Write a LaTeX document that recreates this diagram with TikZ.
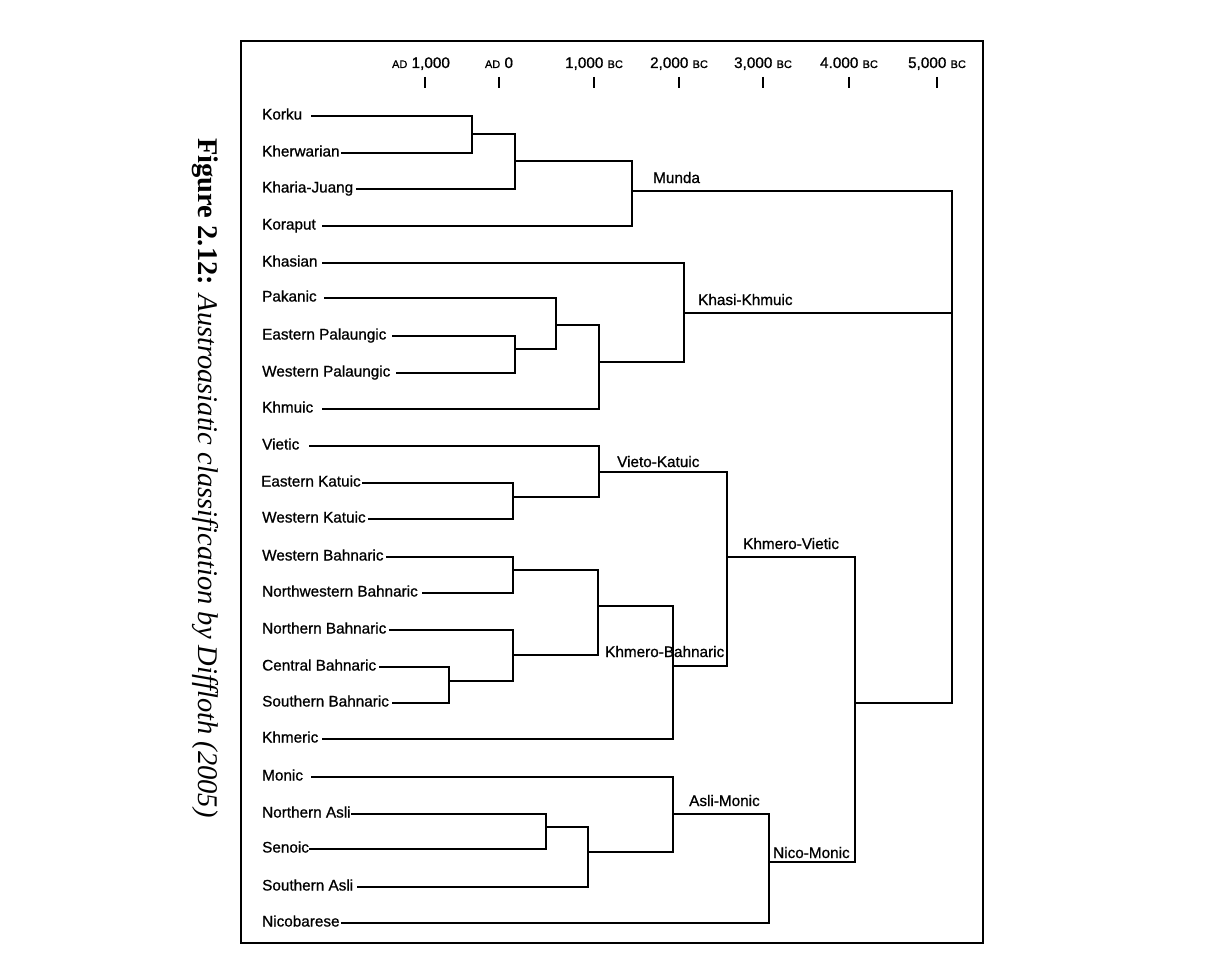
\documentclass[tikz,border=0pt]{standalone}
\usepackage{fontspec}
\setmainfont{Liberation Serif}
\newfontfamily\labfont[FakeBold=0.9]{Liberation Sans}
\begin{document}
\begin{tikzpicture}[x=1pt,y=-1pt,
  leaf/.style={anchor=base west,inner sep=0pt,font=\labfont\fontsize{15.3}{18}\selectfont},
  grp/.style={anchor=base west,inner sep=0pt,font=\labfont\fontsize{15.3}{18}\selectfont},
  axl/.style={anchor=base,inner sep=0pt,font=\labfont\fontsize{15.3}{18}\selectfont},
  br/.style={line width=1.7pt,line cap=rect,line join=miter},
  tickln/.style={line width=1.6pt}]
\useasboundingbox (0,0) rectangle (1227,979);
\draw[line width=1.1pt] (241,41) rectangle (983,943);
% caption
\node[rotate=-90,inner sep=0pt,font=\fontsize{28.5}{32}\selectfont] (cap) at (205,478)
  {\textbf{Figure 2.12:} \textit{Austroasiatic classification by Diffloth (2005)}};
% axis
\newcommand{\smc}[1]{{\fontsize{11}{12}\selectfont #1}}
\node[axl] (a1) at (421,68) {\smc{AD} 1,000};
\node[axl] (a2) at (499,68) {\smc{AD} 0};
\node[axl] (a3) at (594,68) {1,000 \smc{BC}};
\node[axl] (a4) at (679,68) {2,000 \smc{BC}};
\node[axl] (a5) at (763,68) {3,000 \smc{BC}};
\node[axl] (a6) at (849,68) {4.000 \smc{BC}};
\node[axl] (a7) at (937,68) {5,000 \smc{BC}};
\foreach \x in {425,499,594,679,763,849,937} \draw[tickln] (\x,77) -- (\x,88);
% leaves
\node[leaf] (korku) at (262,119.5) {Korku};
\node[leaf] (kherw) at (262,156.5) {Kherwarian};
\node[leaf] (kharia) at (262,192.5) {Kharia-Juang};
\node[leaf] (korap) at (262,229.5) {Koraput};
\node[leaf] (khas) at (262,266.5) {Khasian};
\node[leaf] (pak) at (262,301.5) {Pakanic};
\node[leaf] (epal) at (262,339.5) {Eastern Palaungic};
\node[leaf] (wpal) at (262,376.5) {Western Palaungic};
\node[leaf] (khmu) at (262,412.5) {Khmuic};
\node[leaf] (viet) at (262,449.5) {Vietic};
\node[leaf] (ekat) at (261,486.5) {Eastern Katuic};
\node[leaf] (wkat) at (262,522.5) {Western Katuic};
\node[leaf] (wbah) at (262,560.5) {Western Bahnaric};
\node[leaf] (nwbah) at (262,596.5) {Northwestern Bahnaric};
\node[leaf] (nbah) at (262,633.5) {Northern Bahnaric};
\node[leaf] (cbah) at (262,670.5) {Central Bahnaric};
\node[leaf] (sbah) at (262,706.5) {Southern Bahnaric};
\node[leaf] (khme) at (262,742.5) {Khmeric};
\node[leaf] (moni) at (262,780.5) {Monic};
\node[leaf] (nasl) at (262,817.5) {Northern Asli};
\node[leaf] (seno) at (262,852.5) {Senoic};
\node[leaf] (sasl) at (262,890.5) {Southern Asli};
\node[leaf] (nico) at (262,926.5) {Nicobarese};
% line starts
\coordinate (s1) at (312,116);
\coordinate (s2) at (342,153);
\coordinate (s3) at (357,189);
\coordinate (s4) at (323,226);
\coordinate (s5) at (323,263);
\coordinate (s6) at (325,298);
\coordinate (s7) at (393,336);
\coordinate (s8) at (397,373);
\coordinate (s9) at (323,409);
\coordinate (s10) at (310,446);
\coordinate (s11) at (363,483);
\coordinate (s12) at (369,519);
\coordinate (s13) at (387,557);
\coordinate (s14) at (423,593);
\coordinate (s15) at (390,630);
\coordinate (s16) at (380,667);
\coordinate (s17) at (393,703);
\coordinate (s18) at (323,739);
\coordinate (s19) at (312,777);
\coordinate (s20) at (352,814);
\coordinate (s21) at (310,849);
\coordinate (s22) at (358,887);
\coordinate (s23) at (342,923);
% junctions
\coordinate (j1) at (472,134);
\coordinate (j2) at (515,161);
\coordinate (j3) at (632,191);
\coordinate (j4) at (515,349);
\coordinate (j5) at (556,325);
\coordinate (j6) at (599,362);
\coordinate (j7) at (684,313);
\coordinate (j8) at (513,497);
\coordinate (j9) at (599,472);
\coordinate (j10) at (513,570);
\coordinate (j11) at (449,681);
\coordinate (j12) at (513,655);
\coordinate (j13) at (598,606);
\coordinate (j14) at (673,666);
\coordinate (j15) at (727,557);
\coordinate (j16) at (546,827);
\coordinate (j17) at (588,852);
\coordinate (j18) at (673,814);
\coordinate (j19) at (769,862);
\coordinate (j20) at (855,703);
\coordinate (root) at (952,450);
% branches
\draw[br] (s1) -| (j1) |- (s2);
\draw[br] (j1) -| (j2) |- (s3);
\draw[br] (j2) -| (j3) |- (s4);
\draw[br] (s7) -| (j4) |- (s8);
\draw[br] (s6) -| (j5) |- (j4);
\draw[br] (j5) -| (j6) |- (s9);
\draw[br] (s5) -| (j7) |- (j6);
\draw[br] (s11) -| (j8) |- (s12);
\draw[br] (s10) -| (j9) |- (j8);
\draw[br] (s13) -| (j10) |- (s14);
\draw[br] (s16) -| (j11) |- (s17);
\draw[br] (s15) -| (j12) |- (j11);
\draw[br] (j10) -| (j13) |- (j12);
\draw[br] (j13) -| (j14) |- (s18);
\draw[br] (j9) -| (j15) |- (j14);
\draw[br] (s20) -| (j16) |- (s21);
\draw[br] (j16) -| (j17) |- (s22);
\draw[br] (s19) -| (j18) |- (j17);
\draw[br] (j18) -| (j19) |- (s23);
\draw[br] (j15) -| (j20) |- (j19);
\draw[br] (j3) -| (root) |- (j20);
\draw[br] (j7) -- (j7 -| root);
% group labels
\node[grp] (munda) at (653,183) {Munda};
\node[grp] (khkh) at (698,305) {Khasi-Khmuic};
\node[grp] (vika) at (617,467) {Vieto-Katuic};
\node[grp] (khvi) at (743,549) {Khmero-Vietic};
\node[grp] (khba) at (605,657) {Khmero-Bahnaric};
\node[grp] (asmo) at (689,806) {Asli-Monic};
\node[grp] (nimo) at (773,858) {Nico-Monic};
\end{tikzpicture}
\end{document}
